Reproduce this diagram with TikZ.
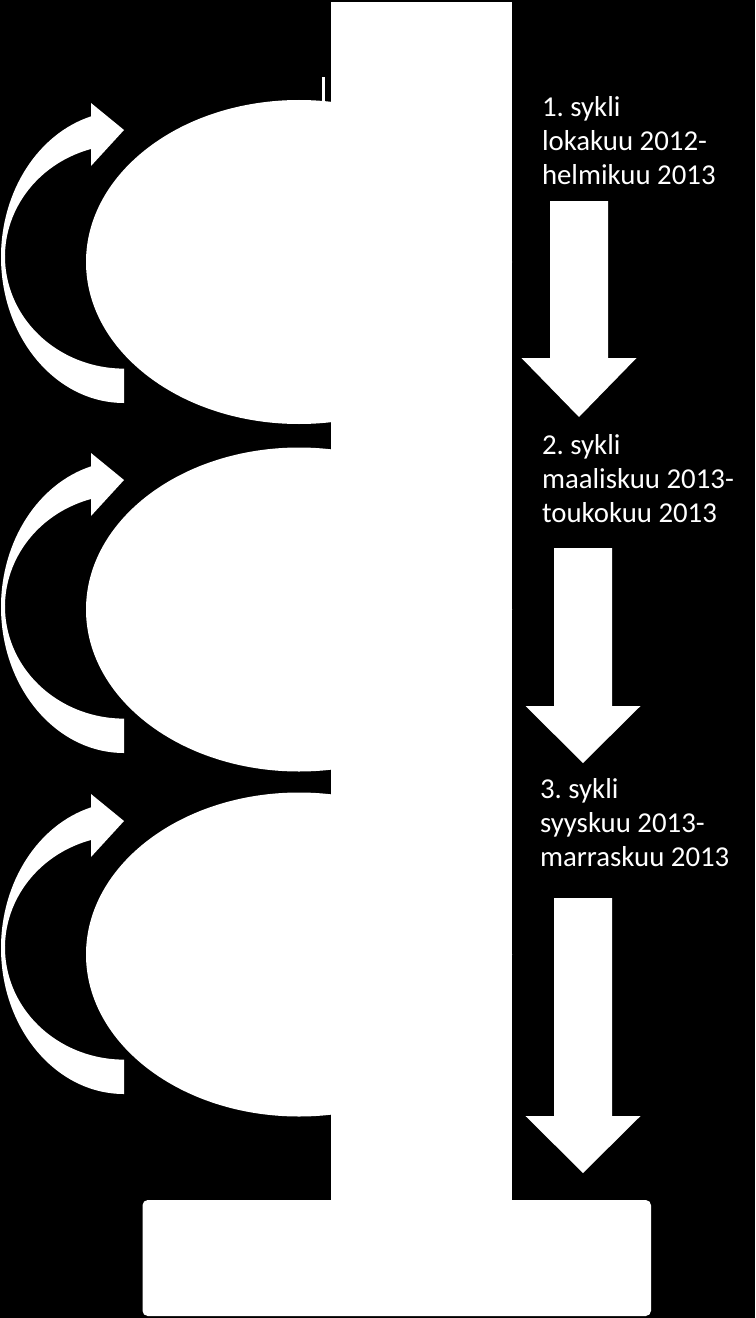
\documentclass[tikz,border=0pt]{standalone}
\usepackage{fontspec}
\setmainfont{Carlito}
\usetikzlibrary{positioning}
\begin{document}
\begin{tikzpicture}[x=0.02cm,y=-0.02cm,every node/.style={outer sep=0pt},
    blob/.style={fill=white},
    lbl/.style={text=white,inner sep=0pt,align=left,anchor=base west,
    font=\fontsize{16.4pt}{19.1pt}\selectfont\frenchspacing},
    loopic/.pic={\fill[white] (124,300) arc (90:254.5:123 and 146) -- (91,0)
    -- (124,27) -- (91,63) -- (91,46) arc (253.9:90:119 and 112) -- cycle;}]

  \fill[black] (0,0) rectangle (755,1318);
  \useasboundingbox (0,0) rectangle (755,1318);

  \foreach \n/\ye/\ya/\cx/\yt/\yb/\yp/\tx/\ty/\la/\lb in
  {1/262/103/579/201/358/417/542/184/lokakuu 2012-/helmikuu 2013,
   2/609.5/453/583/548/706/763/542/522/maaliskuu 2013-/toukokuu 2013,
   3/954.5/794/583/898/1116/1173/540/866/syyskuu 2013-/marraskuu 2013}
  {
    \fill[blob] (299,\ye) ellipse [x radius=213,y radius=162];
    \pic at (0,\ya) {loopic};
    \fill[blob] (\cx-29,\yt) -| (\cx+29,\yb) -- (\cx+57.5,\yb) -- (\cx,\yp)
      -- (\cx-57.5,\yb) -- (\cx-29,\yb) -- cycle;
    \node[lbl] (c\n) at (\tx,\ty) {\n. sykli\\\la\\\lb};
  }
  \fill[blob] (322,77) rectangle (325,101);
  \fill[blob] (331,2) rectangle (512,1201);
  \fill[blob,rounded corners=3pt] (142.5,1200) rectangle (651,1316);
\end{tikzpicture}
\end{document}
